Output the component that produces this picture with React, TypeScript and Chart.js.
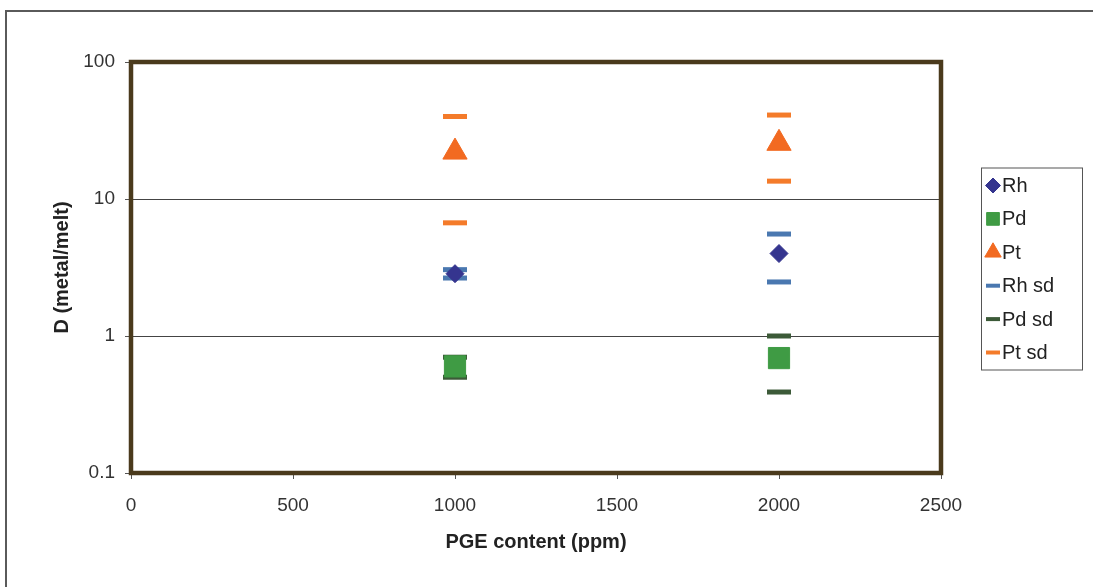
import React, { useEffect, useRef } from 'react';
import { Chart, registerables } from 'chart.js';
import { drawPoint } from 'chart.js/helpers';

Chart.register(...registerables);

// ---- data ----
const PGE_CONTENT = [1000, 2000];
const RH_D = [2.85, 4.0];
const PD_D = [0.6, 0.69];
const PT_D = [22, 25.5];
const RH_SD_HIGH = [3.05, 5.55];
const RH_SD_LOW = [2.65, 2.48];
const PD_SD_HIGH = [0.7, 1.0];
const PD_SD_LOW = [0.5, 0.39];
const PT_SD_HIGH = [40, 41];
const PT_SD_LOW = [6.7, 13.5];
const X_TICKS = [0, 500, 1000, 1500, 2000, 2500];
const Y_TICKS = [0.1, 1, 10, 100];
const SERIES_LABELS = ['Rh', 'Pd', 'Pt', 'Rh sd', 'Pd sd', 'Pt sd'];
const X_TITLE = 'PGE content (ppm)';
const Y_TITLE = 'D (metal/melt)';

const FONT = '"Liberation Sans", Arial, Helvetica, sans-serif';

const points = (ys: number[]) => PGE_CONTENT.map((x, i) => ({ x, y: ys[i] }));
const sdPoints = (hi: number[], lo: number[]) =>
  PGE_CONTENT.flatMap((x, i) => [
    { x, y: hi[i] },
    { x, y: lo[i] },
  ]);

const LEGEND_STYLE = [
  { radius: 7.5, borderWidth: 1 },
  { radius: 9, borderWidth: 1 },
  { radius: 9.5, borderWidth: 1 },
  { radius: 7, borderWidth: 4 },
  { radius: 7, borderWidth: 4 },
  { radius: 7, borderWidth: 4 },
];

const framePlugin = {
  id: 'frameAndLegend',
  beforeDraw(chart: any) {
    const ctx = chart.ctx;
    ctx.save();
    ctx.fillStyle = '#ffffff';
    ctx.fillRect(0, 0, chart.width, chart.height);
    ctx.strokeStyle = '#5a5a5a';
    ctx.lineWidth = 2;
    ctx.beginPath();
    ctx.moveTo(6, chart.height);
    ctx.lineTo(6, 11);
    ctx.lineTo(chart.width, 11);
    ctx.stroke();
    ctx.restore();
  },
  afterDraw(chart: any) {
    const ctx = chart.ctx;
    const { left, top, right, bottom } = chart.chartArea;
    ctx.save();
    // plot area border
    ctx.strokeStyle = '#4a3a1c';
    ctx.lineWidth = 4.5;
    ctx.strokeRect(left, top, right - left, bottom - top);

    // legend
    const boxLeft = right + 40;
    const boxWidth = 101;
    const boxHeight = 202;
    const boxTop = (top + bottom) / 2 - boxHeight / 2 + 1;
    ctx.lineWidth = 1;
    ctx.strokeStyle = '#555555';
    ctx.strokeRect(boxLeft + 0.5, boxTop + 0.5, boxWidth, boxHeight);
    const ds = chart.data.datasets;
    ds.forEach((d: any, i: number) => {
      const cy = boxTop + 18 + i * 33.4;
      const cx = boxLeft + 12;
      const st = LEGEND_STYLE[i];
      ctx.fillStyle = d.backgroundColor;
      ctx.strokeStyle = d.borderColor;
      ctx.lineWidth = st.borderWidth;
      drawPoint(ctx, { pointStyle: d.pointStyle, radius: st.radius, rotation: 0, borderWidth: st.borderWidth }, cx, cy);
      ctx.fillStyle = '#222222';
      ctx.font = `20px ${FONT}`;
      ctx.textAlign = 'left';
      ctx.textBaseline = 'middle';
      ctx.fillText(d.label, boxLeft + 21, cy + 1);
    });
    ctx.restore();
  },
};

export default function App() {
  const canvasRef = useRef<HTMLCanvasElement | null>(null);

  useEffect(() => {
    const canvas = canvasRef.current;
    if (!canvas) return;
    const chart = new Chart(canvas, {
      type: 'scatter',
      data: {
        datasets: [
          {
            label: SERIES_LABELS[0],
            data: points(RH_D),
            pointStyle: 'rectRot',
            pointRadius: 9,
            backgroundColor: '#35358f',
            borderColor: '#35358f',
            pointBorderWidth: 1,
          },
          {
            label: SERIES_LABELS[1],
            data: points(PD_D),
            pointStyle: 'rect',
            pointRadius: 15,
            backgroundColor: '#3f9b44',
            borderColor: '#3f9b44',
            pointBorderWidth: 1,
          },
          {
            label: SERIES_LABELS[2],
            data: points(PT_D),
            pointStyle: 'triangle',
            pointRadius: 14,
            backgroundColor: '#f26a21',
            borderColor: '#f26a21',
            pointBorderWidth: 1,
          },
          {
            label: SERIES_LABELS[3],
            data: sdPoints(RH_SD_HIGH, RH_SD_LOW),
            pointStyle: 'line',
            pointRadius: 12,
            backgroundColor: '#4a78b0',
            borderColor: '#4a78b0',
            pointBorderWidth: 5,
          },
          {
            label: SERIES_LABELS[4],
            data: sdPoints(PD_SD_HIGH, PD_SD_LOW),
            pointStyle: 'line',
            pointRadius: 12,
            backgroundColor: '#3c5a38',
            borderColor: '#3c5a38',
            pointBorderWidth: 5,
          },
          {
            label: SERIES_LABELS[5],
            data: sdPoints(PT_SD_HIGH, PT_SD_LOW),
            pointStyle: 'line',
            pointRadius: 12,
            backgroundColor: '#f47b2a',
            borderColor: '#f47b2a',
            pointBorderWidth: 5,
          },
        ] as any,
      },
      options: {
        animation: false,
        responsive: false,
        maintainAspectRatio: false,
        events: [],
        layout: { padding: { top: 62, right: 152, bottom: 33, left: 50 } },
        plugins: {
          legend: { display: false },
          tooltip: { enabled: false },
          title: { display: false },
        },
        scales: {
          x: {
            type: 'linear',
            min: X_TICKS[0],
            max: X_TICKS[X_TICKS.length - 1],
            afterBuildTicks: (scale: any) => {
              scale.ticks = X_TICKS.map((v) => ({ value: v }));
            },
            afterFit: (scale: any) => {
              scale.height = 81;
            },
            border: { display: false },
            grid: {
              drawOnChartArea: false,
              drawTicks: true,
              tickLength: 6,
              tickColor: '#555555',
            },
            ticks: {
              padding: 15,
              color: '#333333',
              font: { family: FONT, size: 19 },
              maxRotation: 0,
              callback: (v: any) => String(v),
            },
            title: {
              display: true,
              text: X_TITLE,
              color: '#222222',
              font: { family: FONT, size: 20, weight: 'bold' },
              padding: 0,
            },
          },
          y: {
            type: 'logarithmic',
            min: Y_TICKS[0],
            max: Y_TICKS[Y_TICKS.length - 1],
            afterBuildTicks: (scale: any) => {
              scale.ticks = Y_TICKS.map((v) => ({ value: v }));
            },
            afterFit: (scale: any) => {
              scale.width = 81;
            },
            border: { display: false },
            grid: {
              drawOnChartArea: true,
              color: '#444444',
              lineWidth: 1,
              drawTicks: true,
              tickLength: 6,
              tickColor: '#555555',
            },
            ticks: {
              padding: 10,
              color: '#333333',
              font: { family: FONT, size: 19 },
              callback: (v: any) => String(v),
            },
            title: {
              display: true,
              text: Y_TITLE,
              color: '#222222',
              font: { family: FONT, size: 20, weight: 'bold' },
              padding: 0,
            },
          },
        },
      } as any,
      plugins: [framePlugin],
    });
    return () => chart.destroy();
  }, []);

  return (
    <div style={{ position: 'fixed', left: 0, top: 0, width: 1093, height: 587, background: '#fff' }}>
      <canvas ref={canvasRef} width={1093} height={587} style={{ width: 1093, height: 587, display: 'block' }} />
    </div>
  );
}
